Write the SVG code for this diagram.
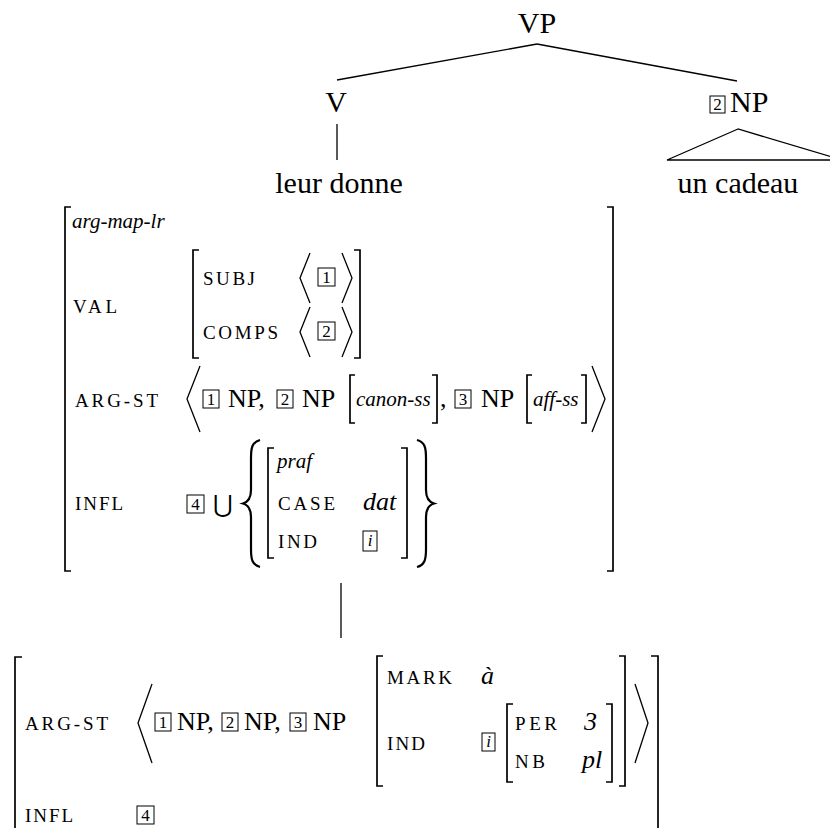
<svg xmlns="http://www.w3.org/2000/svg" width="830" height="828" viewBox="0 0 830 828">
<rect width="830" height="828" fill="#fff"/>
<g id="connectors" stroke="#000" stroke-width="1.3" fill="none">
<line x1="537" y1="44" x2="337" y2="80"/>
<line x1="537" y1="44" x2="737" y2="81"/>
<line x1="337" y1="124" x2="337" y2="160"/>
<path d="M738 129 L667 160 L842 160 Z"/>
<line x1="341" y1="583" x2="341" y2="638"/>
</g>
<g id="VP"><text style="font-family:'Liberation Serif','Times New Roman',serif;font-size:30px" x="537" y="33" text-anchor="middle">VP</text></g>
<g id="V"><text style="font-family:'Liberation Serif','Times New Roman',serif;font-size:30px" x="336" y="112" text-anchor="middle">V</text></g>
<g id="NP"><rect x="710" y="96" width="15" height="17" fill="none" stroke="#000" stroke-width="1"/><text style="font-family:'Liberation Serif','Times New Roman',serif;font-size:17px" x="717.5" y="110" text-anchor="middle">2</text><text style="font-family:'Liberation Serif','Times New Roman',serif;font-size:30px" x="730" y="112">NP</text></g>
<g id="leur-donne"><text style="font-family:'Liberation Serif','Times New Roman',serif;font-size:30px" x="339" y="193" text-anchor="middle">leur donne</text></g>
<g id="un-cadeau"><text style="font-family:'Liberation Serif','Times New Roman',serif;font-size:30px" x="738" y="193" text-anchor="middle">un cadeau</text></g>

<g id="avm1">
<g fill="none" stroke="#000" stroke-width="1.7">
<path d="M71 207 H65 V571 H71"/>
<path d="M607 207 H613 V571 H607"/>
<path d="M199 250 H193 V358 H199"/>
<path d="M354 250 H360 V358 H354"/>
<path d="M355 375 H350 V423 H355"/>
<path d="M432 375 H437 V423 H432"/>
<path d="M532 375 H527 V423 H532"/>
<path d="M581 375 H586 V423 H581"/>
<path d="M274 448 H268 V558 H274"/>
<path d="M401 448 H407 V558 H401"/>
</g>
<g fill="none" stroke="#000" stroke-width="1.3">
<polyline points="310,253 300,278 310,303"/>
<polyline points="342,253 352,278 342,303"/>
<polyline points="310,307 300,332 310,357"/>
<polyline points="342,307 352,332 342,357"/>
<polyline points="200,366 187,399 200,432"/>
<polyline points="592,366 605,399 592,432"/>
</g>
<g fill="none" stroke="#000" stroke-width="1">
<rect x="318" y="268" width="17" height="18"/>
<rect x="318" y="322" width="17" height="18"/>
<rect x="203" y="390" width="16" height="18"/>
<rect x="277" y="390" width="16" height="18"/>
<rect x="455" y="390" width="16" height="18"/>
<rect x="187" y="495" width="17" height="18"/>
<rect x="363" y="531" width="14" height="20"/>
</g>
<g fill="none" stroke="#000" stroke-width="2.2">
<path d="M260 440 C252 442 251 448 251 458 L251 490 C251 498 248 502 243 503.5 C248 505 251 509 251 517 L251 549 C251 559 252 565 260 567"/>
<path d="M417 440 C425 442 426 448 426 458 L426 490 C426 498 429 502 434 503.5 C429 505 426 509 426 517 L426 549 C426 559 425 565 417 567"/>
</g>
<text style="font-family:'Liberation Serif','Times New Roman',serif;font-size:21px;font-style:italic" x="72" y="228">arg-map-lr</text>
<text style="font-family:'Liberation Serif','Times New Roman',serif;font-size:19px" x="73" y="313" textLength="44">VAL</text>
<text style="font-family:'Liberation Serif','Times New Roman',serif;font-size:19px" x="203" y="285" textLength="52">SUBJ</text>
<text style="font-family:'Liberation Serif','Times New Roman',serif;font-size:17px" x="326.5" y="283" text-anchor="middle">1</text>
<text style="font-family:'Liberation Serif','Times New Roman',serif;font-size:19px" x="203" y="339" textLength="75">COMPS</text>
<text style="font-family:'Liberation Serif','Times New Roman',serif;font-size:17px" x="326.5" y="337" text-anchor="middle">2</text>
<text style="font-family:'Liberation Serif','Times New Roman',serif;font-size:19px" x="75" y="407" textLength="83">ARG-ST</text>
<text style="font-family:'Liberation Serif','Times New Roman',serif;font-size:17px" x="211" y="405" text-anchor="middle">1</text>
<text style="font-family:'Liberation Serif','Times New Roman',serif;font-size:26px" x="228" y="407">NP,</text>
<text style="font-family:'Liberation Serif','Times New Roman',serif;font-size:17px" x="285" y="405" text-anchor="middle">2</text>
<text style="font-family:'Liberation Serif','Times New Roman',serif;font-size:26px" x="302" y="407">NP</text>
<text style="font-family:'Liberation Serif','Times New Roman',serif;font-size:21px;font-style:italic" x="356" y="406">canon-ss</text>
<text style="font-family:'Liberation Serif','Times New Roman',serif;font-size:26px" x="440" y="407">,</text>
<text style="font-family:'Liberation Serif','Times New Roman',serif;font-size:17px" x="463" y="405" text-anchor="middle">3</text>
<text style="font-family:'Liberation Serif','Times New Roman',serif;font-size:26px" x="481" y="407">NP</text>
<text style="font-family:'Liberation Serif','Times New Roman',serif;font-size:21px;font-style:italic" x="533" y="406">aff-ss</text>
<text style="font-family:'Liberation Serif','Times New Roman',serif;font-size:19px" x="75" y="510" textLength="48">INFL</text>
<text style="font-family:'Liberation Serif','Times New Roman',serif;font-size:17px" x="195.5" y="510" text-anchor="middle">4</text>
<text style="font-family:'DejaVu Serif',serif;font-size:24px" x="223" y="512" text-anchor="middle">⋃</text>
<text style="font-family:'Liberation Serif','Times New Roman',serif;font-size:21px;font-style:italic" x="277" y="468">praf</text>
<text style="font-family:'Liberation Serif','Times New Roman',serif;font-size:19px" x="278" y="510" textLength="57">CASE</text>
<text style="font-family:'Liberation Serif','Times New Roman',serif;font-size:26px;font-style:italic" x="363" y="510">dat</text>
<text style="font-family:'Liberation Serif','Times New Roman',serif;font-size:19px" x="278" y="548" textLength="39">IND</text>
<text style="font-family:'Liberation Serif','Times New Roman',serif;font-size:17px;font-style:italic" x="370" y="546" text-anchor="middle">i</text>
</g>

<g id="avm2">
<g fill="none" stroke="#000" stroke-width="1.7">
<path d="M22 657 H15 V832"/>
<path d="M651 656 H658 V832"/>
<path d="M383 656 H377 V786 H383"/>
<path d="M513 704 H507 V782 H513"/>
<path d="M606 704 H612 V782 H606"/>
<path d="M619 656 H625 V786 H619"/>
</g>
<g fill="none" stroke="#000" stroke-width="1.3">
<polyline points="152,684 138,723 152,763"/>
<polyline points="635,684 648,723 635,763"/>
</g>
<g fill="none" stroke="#000" stroke-width="1">
<rect x="155" y="713" width="16" height="18"/>
<rect x="222" y="713" width="16" height="18"/>
<rect x="290" y="713" width="16" height="18"/>
<rect x="482" y="733" width="13" height="18"/>
<rect x="137" y="806" width="17" height="18"/>
</g>
<text style="font-family:'Liberation Serif','Times New Roman',serif;font-size:19px" x="25" y="730" textLength="83">ARG-ST</text>
<text style="font-family:'Liberation Serif','Times New Roman',serif;font-size:17px" x="163" y="728" text-anchor="middle">1</text>
<text style="font-family:'Liberation Serif','Times New Roman',serif;font-size:26px" x="177" y="730">NP,</text>
<text style="font-family:'Liberation Serif','Times New Roman',serif;font-size:17px" x="230" y="728" text-anchor="middle">2</text>
<text style="font-family:'Liberation Serif','Times New Roman',serif;font-size:26px" x="244" y="730">NP,</text>
<text style="font-family:'Liberation Serif','Times New Roman',serif;font-size:17px" x="298" y="728" text-anchor="middle">3</text>
<text style="font-family:'Liberation Serif','Times New Roman',serif;font-size:26px" x="313" y="730">NP</text>
<text style="font-family:'Liberation Serif','Times New Roman',serif;font-size:19px" x="387" y="684" textLength="65">MARK</text>
<text style="font-family:'Liberation Serif','Times New Roman',serif;font-size:26px;font-style:italic" x="481" y="684">à</text>
<text style="font-family:'Liberation Serif','Times New Roman',serif;font-size:19px" x="387" y="750" textLength="38">IND</text>
<text style="font-family:'Liberation Serif','Times New Roman',serif;font-size:17px;font-style:italic" x="488.5" y="747" text-anchor="middle">i</text>
<text style="font-family:'Liberation Serif','Times New Roman',serif;font-size:19px" x="515" y="730" textLength="42">PER</text>
<text style="font-family:'Liberation Serif','Times New Roman',serif;font-size:26px;font-style:italic" x="584" y="730">3</text>
<text style="font-family:'Liberation Serif','Times New Roman',serif;font-size:19px" x="515" y="768" textLength="30">NB</text>
<text style="font-family:'Liberation Serif','Times New Roman',serif;font-size:26px;font-style:italic" x="582" y="768">pl</text>
<text style="font-family:'Liberation Serif','Times New Roman',serif;font-size:19px" x="25" y="822" textLength="48">INFL</text>
<text style="font-family:'Liberation Serif','Times New Roman',serif;font-size:17px" x="145.5" y="821" text-anchor="middle">4</text>
</g>
</svg>
